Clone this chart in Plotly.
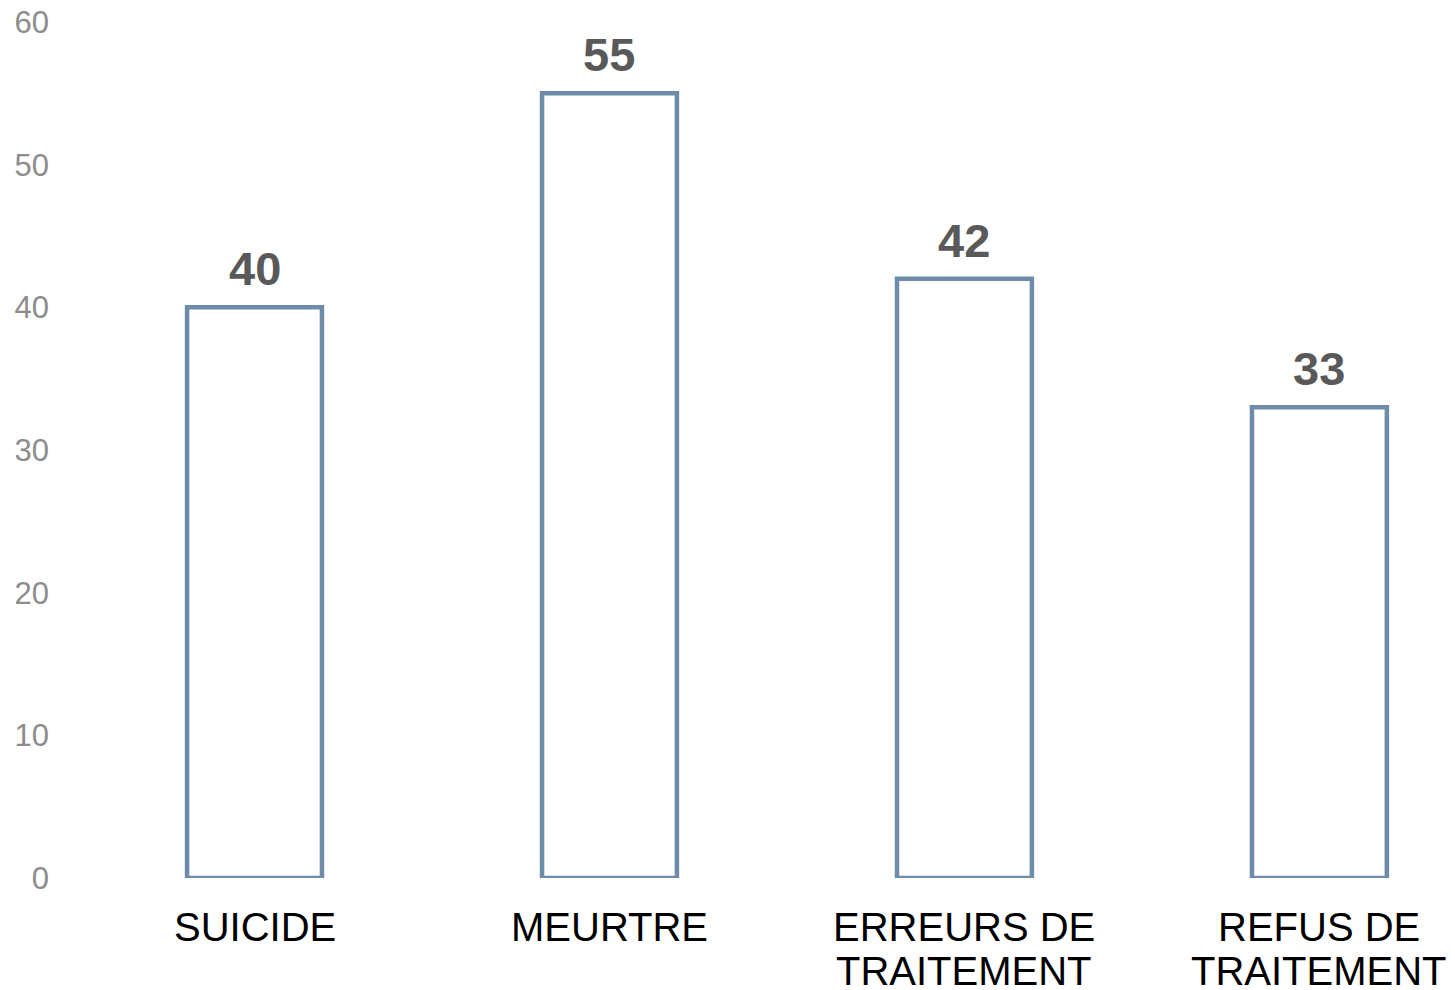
import plotly.graph_objects as go

categories = ["SUICIDE", "MEURTRE", "ERREURS DE<br>TRAITEMENT", "REFUS DE<br>TRAITEMENT"]
values = [40, 55, 42, 33]
y_ticks = [0, 10, 20, 30, 40, 50, 60]

fig = go.Figure()
fig.add_trace(go.Bar(
    x=list(range(len(categories))),
    y=values,
    width=0.38,
    marker=dict(color="white", line=dict(color="#6e8baa", width=4.5)),
    hoverinfo="skip",
))

# value labels
for i, v in enumerate(values):
    fig.add_annotation(
        x=i, y=v, text=f"<b>{v}</b>", showarrow=False,
        yanchor="bottom", yshift=10,
        font=dict(family="Liberation Sans, Arial", size=47, color="#595959"),
    )

# category labels (one annotation per line for tight line spacing)
for i, cat in enumerate(categories):
    for k, line in enumerate(cat.split("<br>")):
        fig.add_annotation(
            x=i, y=0, text=line, showarrow=False,
            yanchor="middle", yshift=-(49 + 44 * k),
            font=dict(family="Liberation Sans, Arial", size=40, color="#000000"),
        )

fig.update_layout(
    width=1447, height=982,
    margin=dict(l=52, r=0, t=14, b=112),
    paper_bgcolor="white", plot_bgcolor="white",
    showlegend=False,
    font=dict(family="Liberation Sans, Arial"),
    xaxis=dict(
        range=[-0.548, 3.382],
        tickmode="array",
        tickvals=list(range(len(categories))),
        showticklabels=False,
        showgrid=False, zeroline=False, showline=False,
        automargin=False,
    ),
    yaxis=dict(
        range=[0, 60],
        tickmode="array",
        tickvals=y_ticks,
        showgrid=False, zeroline=False, showline=False,
        tickfont=dict(size=31, color="#8c8c8c"),
        automargin=False,
        ticklabelstandoff=10,
        ticklabeloverflow="allow",
    ),
)

fig.write_html("out.html")
